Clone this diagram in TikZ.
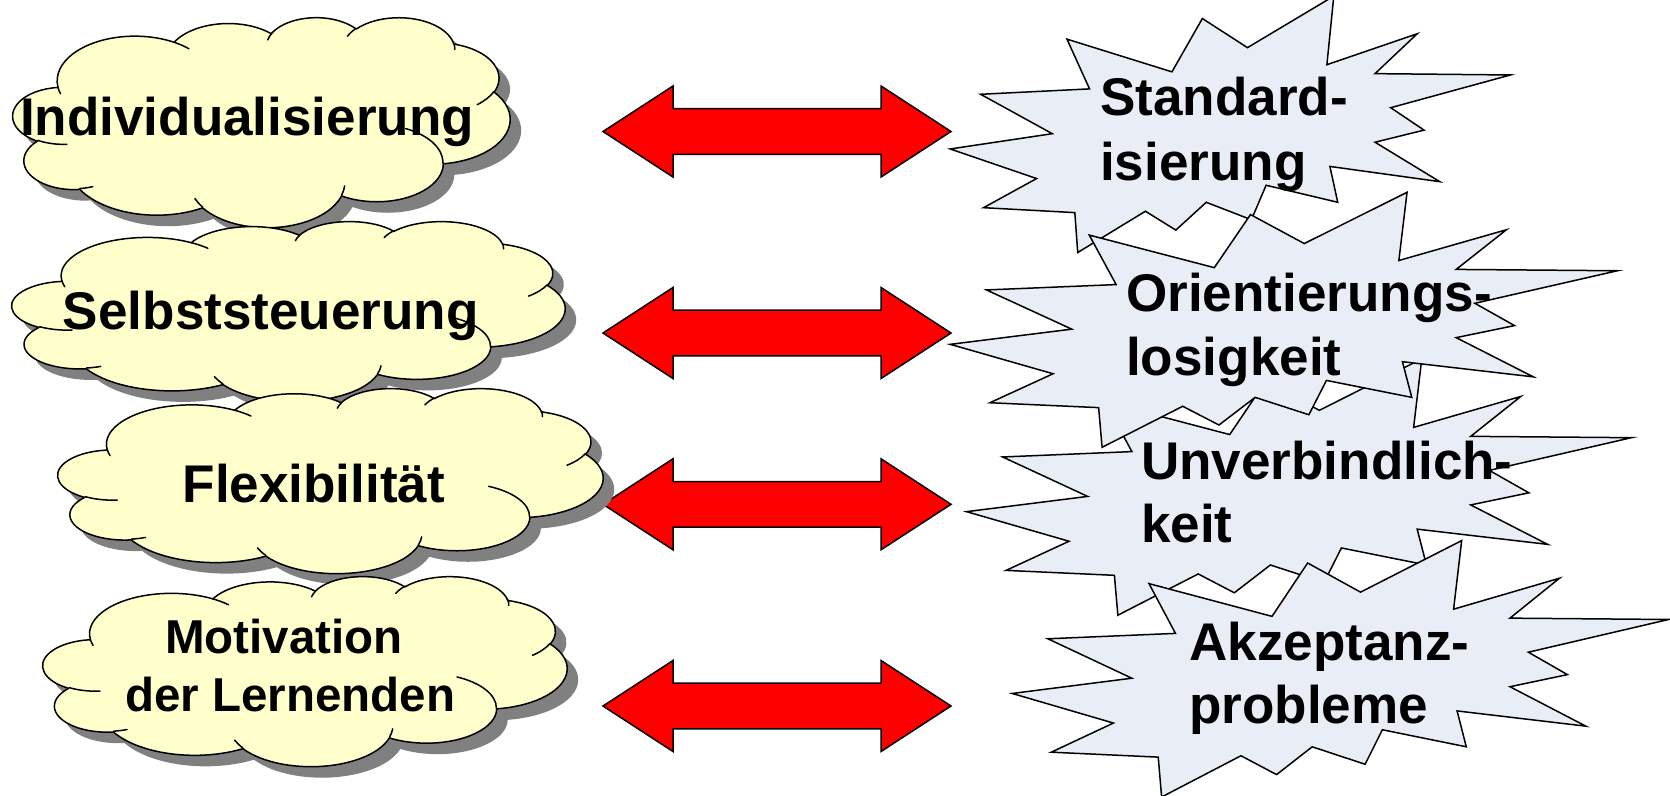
\documentclass[tikz,border=0pt]{standalone}
\usepackage{fontspec}
\setmainfont{Liberation Sans}

\definecolor{cloudyellow}{HTML}{FFFFCC}
\definecolor{shadowgray}{HTML}{808080}
\definecolor{burstblue}{HTML}{E9EEF6}
\definecolor{arrowred}{HTML}{FF0000}

\tikzset{
  cloudbody/.style={fill=cloudyellow, draw=black, line width=1.5bp, line join=round},
  cloudcrease/.style={draw=black, line width=1.5bp, line cap=round},
  cloudshadow/.style={fill=shadowgray},
  burstbody/.style={fill=burstblue, draw=black, line width=1.5bp, line join=miter},
  arrowbody/.style={fill=arrowred, draw=black, line width=1.5bp, line join=miter},
  cloudtext/.style={font=\bfseries\fontsize{53.25}{64}\selectfont, inner sep=0pt, anchor=base},
  cloudtextsmall/.style={font=\bfseries\fontsize{47.7}{58}\selectfont, inner sep=0pt, anchor=base},
  bursttext/.style={font=\bfseries\fontsize{53.25}{64}\selectfont, inner sep=0pt, anchor=base west},
}

% cloud outline on a 43.2 x 43.2 box (y pointing down)
\newcommand\cloudrim{%
  (3.9,14.37)
  arc[start angle=-187.745, end angle=-59.63,  x radius=6.753bp, y radius=9.19bp]
  arc[start angle=-152.02,  end angle=-45.46,  x radius=5.333bp, y radius=7.267bp]
  arc[start angle=-153.50,  end angle=-37.33,  x radius=4.365bp, y radius=5.945bp]
  arc[start angle=-139.71,  end angle=-10.21,  x radius=4.857bp, y radius=6.595bp]
  arc[start angle=-74.77,   end angle=23.21,   x radius=5.333bp, y radius=7.273bp]
  arc[start angle=-37.53,   end angle=81.86,   x radius=6.775bp, y radius=9.22bp]
  arc[start angle=0.46,     end angle=121.97,  x radius=5.785bp, y radius=7.867bp]
  arc[start angle=16.85,    end angle=146.23,  x radius=6.752bp, y radius=9.215bp]
  arc[start angle=58.99,    end angle=150.20,  x radius=7.72bp,  y radius=10.543bp]
  arc[start angle=-276.69,  end angle=-136.90, x radius=4.36bp,  y radius=5.918bp]
  arc[start angle=-239.65,  end angle=-95.89,  x radius=4.345bp, y radius=5.945bp]
  -- cycle}

% the short inner arcs where the puffs overlap
\newcommand\cloudcreases{%
  (4.693,26.177) arc[start angle=85.55,   end angle=120.35,  x radius=4.345bp, y radius=5.945bp]
  (6.928,34.899) arc[start angle=68.24,   end angle=83.31,   x radius=4.36bp,  y radius=5.918bp]
  (16.478,39.09) arc[start angle=146.23,  end angle=158.48,  x radius=6.752bp, y radius=9.215bp]
  (28.827,34.751) arc[start angle=4.74,   end angle=16.85,   x radius=6.752bp, y radius=9.215bp]
  (34.129,22.954) arc[start angle=-64.03, end angle=0.46,    x radius=5.785bp, y radius=7.867bp]
  (41.798,15.354) arc[start angle=23.21,  end angle=49.64,   x radius=5.333bp, y radius=7.273bp]
  (38.324,5.426) arc[start angle=-10.21,  end angle=0.82,    x radius=4.857bp, y radius=6.595bp]
  (29.078,3.952) arc[start angle=-156.29, end angle=-139.71, x radius=4.857bp, y radius=6.595bp]
  (22.141,4.72)  arc[start angle=-167.73, end angle=-153.5,  x radius=4.365bp, y radius=5.945bp]
  (14,5.192)     arc[start angle=-59.63,  end angle=-45.74,  x radius=6.753bp, y radius=9.19bp]
  (4.127,15.789) arc[start angle=163.19,  end angle=172.26,  x radius=6.753bp, y radius=9.19bp]}

% explosion outline on a 21.6 x 21.6 box
\newcommand\burstrim{%
  (11.462,4.342) -- (14.79,0) -- (14.525,5.777) -- (18.007,3.172) -- (16.38,6.532)
  -- (21.6,6.645) -- (16.985,9.402) -- (18.27,11.29) -- (16.38,12.31) -- (18.877,15.632)
  -- (14.64,14.35) -- (14.942,17.37) -- (12.18,15.935) -- (11.612,18.842) -- (9.872,17.37)
  -- (8.7,19.712) -- (7.527,18.125) -- (4.917,21.6) -- (4.805,18.24) -- (1.285,17.825)
  -- (3.33,15.37) -- (0,12.877) -- (3.935,11.592) -- (1.172,8.27) -- (5.372,7.817)
  -- (4.502,3.625) -- (8.55,6.382) -- (9.722,1.887) -- cycle}

% cloud with drop shadow: left, top, width, height
\newcommand\drawcloud[4]{%
  \begin{scope}[shift={(#1+11,#2+11)}, xscale=#3/43.2, yscale=#4/43.2]
    \fill[cloudshadow] \cloudrim;
  \end{scope}
  \begin{scope}[shift={(#1,#2)}, xscale=#3/43.2, yscale=#4/43.2]
    \filldraw[cloudbody] \cloudrim;
    \draw[cloudcrease] \cloudcreases;
  \end{scope}}

% explosion: left, top, width, height
\newcommand\drawburst[4]{%
  \begin{scope}[shift={(#1,#2)}, xscale=#3/21.6, yscale=#4/21.6]
    \filldraw[burstbody] \burstrim;
  \end{scope}}

% left-right block arrow centred on the given height
\newcommand\blockarrow[1]{%
  \filldraw[arrowbody] (603,#1) -- (673,#1-45.5) -- (673,#1-22.8) -- (881,#1-22.8)
    -- (881,#1-45.5) -- (951,#1) -- (881,#1+45.5) -- (881,#1+22.8)
    -- (673,#1+22.8) -- (673,#1+45.5) -- cycle;}

\begin{document}
\begin{tikzpicture}[x=1bp, y=1bp, yscale=-1]
\useasboundingbox (0,0) rectangle (1670,796);

% double arrows
\blockarrow{131.5}
\blockarrow{333}
\blockarrow{504.3}
\blockarrow{706}

% clouds
\drawcloud{13}{17}{497}{210}
\node[cloudtext] (indiv) at (247,135) {Individualisierung};

\drawcloud{12}{221}{553}{180}
\node[cloudtext] (selbst) at (270.8,329) {Selbststeuerung};

\drawcloud{58}{388}{545}{185}
\node[cloudtext] (flex) at (313.8,502.5) {Flexibilität};

\drawcloud{43}{576}{524}{190}
\node[cloudtextsmall] (motiv) at (283.8,653.3) {Motivation};
\node[cloudtextsmall] (lern) at (290.2,711.7) {der Lernenden};

% explosions
\drawburst{950.2}{-3.9}{560.2}{256.4}
\node[bursttext] (std1) at (1100,115) {Standard-};
\node[bursttext] (std2) at (1100,180) {isierung};

\drawburst{966.5}{358.8}{664.9}{256.4}
\node[bursttext] (unv1) at (1141,479.3) {Unverbindlich-};
\node[bursttext] (unv2) at (1141,542.7) {keit};

\drawburst{950.2}{192.3}{667.2}{255}
\node[bursttext] (ori1) at (1126,311.7) {Orientierungs-};
\node[bursttext] (ori2) at (1126,375) {losigkeit};

\drawburst{1012.2}{540.6}{656.4}{256.4}
\node[bursttext] (akz1) at (1189,660) {Akzeptanz-};
\node[bursttext] (akz2) at (1189,723.3) {probleme};
\end{tikzpicture}
\end{document}
